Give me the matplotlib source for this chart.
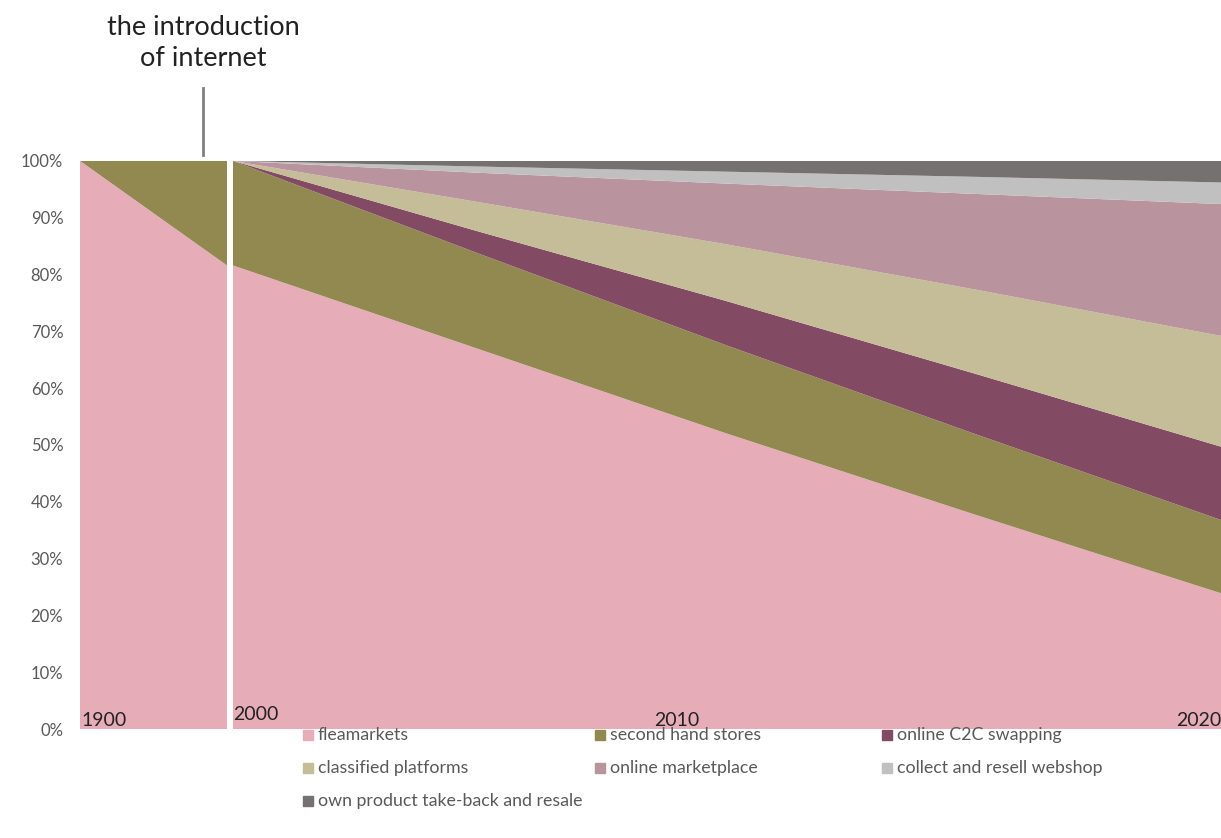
import matplotlib
matplotlib.use('Agg')
import matplotlib.pyplot as plt
from matplotlib.patches import Rectangle
import numpy as np

plt.rcParams['font.family'] = ['Lato', 'DejaVu Sans']

# data (shares in %)
series = ['fleamarkets', 'second hand stores', 'online C2C swapping',
          'classified platforms', 'online marketplace',
          'collect and resell webshop', 'own product take-back and resale']
colors = ['#E6ADB8', '#928951', '#824A63', '#C5BD97', '#B9939D', '#C0C0C0', '#767171']

# before internet: 1900 -> just before 2000
pre_x = [0, 1]
pre_flea = [100, 81.6]
pre_second = [0, 18.4]

# after internet
years = [2000, 2005, 2010, 2015, 2020]
flea = [81.6, 66.8, 52.0, 37.8, 23.9]
second = [18.4, 16.8, 15.5, 14.2, 12.9]
c2c = [0, 3.9, 7.8, 10.6, 12.9]
classified = [0, 5.2, 10.0, 14.8, 19.5]
marketplace = [0, 5.2, 10.7, 16.8, 23.2]
collect = [0, 1.1, 2.1, 3.0, 3.8]
own = [0, 1.0, 1.9, 2.8, 3.8]

year_labels = ['1900', '2000', '2010', '2020']
yticks = np.arange(0, 101, 10)

W, H = 1221, 838
fig = plt.figure(figsize=(W / 100, H / 100), dpi=100)
bottom, height = 0.130, 0.678
ax1 = fig.add_axes([0.0655, bottom, 0.1204, height])
ax2 = fig.add_axes([0.1908, bottom, 0.8092, height])

ax1.stackplot(pre_x, pre_flea, pre_second, colors=colors[:2], linewidth=0)
ax2.stackplot(years, flea, second, c2c, classified, marketplace, collect, own,
              colors=colors, linewidth=0)

ax1.set_xlim(pre_x[0], pre_x[-1])
ax2.set_xlim(years[0], years[-1])
for ax in (ax1, ax2):
    ax.set_ylim(0, 100)
    for s in ax.spines.values():
        s.set_visible(False)
    ax.set_xticks([])
    ax.tick_params(length=0)

ax1.set_yticks(yticks)
ax1.set_yticklabels([f'{v}%' for v in yticks], color='#595959', fontsize=12)
ax1.tick_params(axis='y', pad=12)
ax2.set_yticks([])

# year labels inside the plot
lab_kw = dict(fontsize=14, color='#222222', va='bottom')
ax1.text(0.01, 0.0, year_labels[0], transform=ax1.transAxes, ha='left', **lab_kw)
ax2.text(0.0, 0.01, year_labels[1], transform=ax2.transAxes, ha='left', **lab_kw)
ax2.text(0.449, 0.0, year_labels[2], transform=ax2.transAxes, ha='center', **lab_kw)
ax2.text(0.955, 0.0, year_labels[3], transform=ax2.transAxes, ha='left',
         clip_on=False, **lab_kw)

# annotation
fig.text(203 / W, 1 - 43 / H, 'the introduction\nof internet', ha='center',
         va='center', fontsize=19.5, color='#222222', linespacing=1.3)
fig.add_artist(plt.Line2D([203 / W, 203 / W], [1 - 88 / H, 1 - 155 / H],
                          color='#7f7f7f', linewidth=2))

# manual legend
col_x = [303, 595, 882]
row_y = [735, 768, 801]
for i, (name, c) in enumerate(zip(series, colors)):
    px = col_x[i % 3]
    py = row_y[i // 3]
    fig.add_artist(Rectangle((px / W, 1 - (py + 5) / H), 10 / W, 10 / H,
                             color=c, transform=fig.transFigure))
    fig.text((px + 15) / W, 1 - py / H, name, ha='left', va='center',
             fontsize=12.8, color='#595959')

fig.savefig('out.png', dpi=100)
